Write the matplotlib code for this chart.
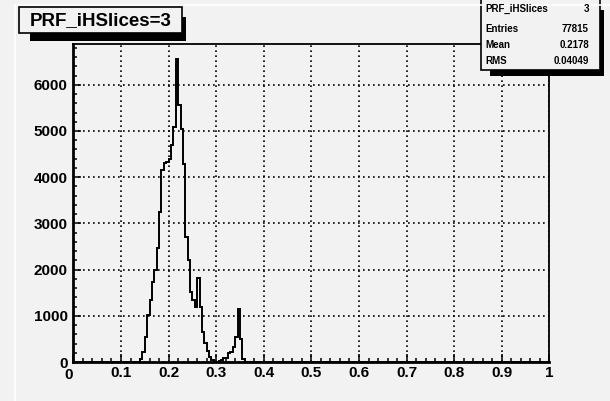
import matplotlib
matplotlib.use("Agg")
import matplotlib.pyplot as plt
import numpy as np
from matplotlib.patches import Rectangle
from matplotlib.transforms import ScaledTranslation
from matplotlib.ticker import MultipleLocator

plt.rcParams["font.family"] = ["Liberation Sans", "DejaVu Sans"]
plt.rcParams["font.weight"] = "bold"

# histogram definition: 200 bins on [0, 1]
n_bins = 200
x_min, x_max = 0.0, 1.0
first_bin = 0.135  # low edge of the first filled bin
bin_counts = [
    10, 60, 220, 550, 1020, 1340, 1740, 1990, 2460, 3250,      # 0.135 - 0.185
    4150, 4300, 4330, 4400, 4700, 5090, 6555, 5570, 5050, 4280,  # 0.185 - 0.235
    2710, 2210, 1520, 1350, 1200, 1820, 1200, 650, 420, 230,     # 0.235 - 0.285
    100, 40, 10, 5, 20, 40, 80, 80, 190, 220,                    # 0.285 - 0.335
    330, 550, 1140, 490, 60, 10,                                 # 0.335 - 0.365
]
hist_name = "PRF_iHSlices"
slice_index = 3
n_entries = 77815
hist_mean = 0.2178
hist_rms = 0.04049

bg = "#f2f2f2"
W, H = 610, 401

edges = np.linspace(x_min, x_max, n_bins + 1)
counts = np.zeros(n_bins)
i0 = int(round((first_bin - x_min) / (x_max - x_min) * n_bins))
counts[i0:i0 + len(bin_counts)] = bin_counts

fig = plt.figure(figsize=(W / 100, H / 100), dpi=100, facecolor=bg)
ax = fig.add_axes([73.4 / W, 1 - 362 / H, 476 / W, 318 / H], facecolor=bg)

ax.stairs(counts, edges, color="black", lw=1.4, zorder=3)
ax.set_xlim(x_min, x_max)
ax.set_ylim(0, 1.05 * counts.max())

ax.xaxis.set_major_locator(MultipleLocator(0.1))
ax.xaxis.set_minor_locator(MultipleLocator(0.02))
ax.yaxis.set_major_locator(MultipleLocator(1000))
ax.yaxis.set_minor_locator(MultipleLocator(200))
ax.set_xticks(np.arange(0, 1.01, 0.1))
ax.set_xticklabels(["0"] + [f"{v:g}" for v in np.arange(0.1, 0.95, 0.1)] + ["1"])
ax.grid(True, which="major", color="black", lw=1.2, linestyle=(0, (1, 2)))
ax.set_axisbelow(True)

ax.tick_params(which="both", direction="in", top=False, right=False,
               labelsize=11, width=1.1)
ax.tick_params(which="major", length=5.5)
ax.tick_params(which="minor", length=3)
ax.tick_params(axis="x", pad=3)
ax.tick_params(axis="y", pad=4)

for side in ("left", "bottom"):
    ax.spines[side].set_linewidth(2.0)
for side in ("top", "right"):
    ax.spines[side].set_linewidth(1.3)

# ROOT nudges the first x label left so it clears the y axis
lbl0 = ax.get_xticklabels()[0]
lbl0.set_transform(lbl0.get_transform() + ScaledTranslation(-5 / 100, -2 / 100, fig.dpi_scale_trans))

# overlay in pixel coordinates for boxes and pad border
ov = fig.add_axes([0, 0, 1, 1], facecolor="none", zorder=10)
ov.set_xlim(0, W)
ov.set_ylim(H, 0)
ov.axis("off")

# pad border highlight
ov.plot([14.5, 14.5], [4.5, H], color="white", lw=1.2)
ov.plot([14.5, W], [4.5, 4.5], color="white", lw=1.2)

# title box with shadow
ov.add_patch(Rectangle((182, 17), 3.5, 23.7, fc="black", ec="none"))
ov.add_patch(Rectangle((30, 33.3), 155.5, 7.4, fc="black", ec="none"))
ov.add_patch(Rectangle((19, 7.3), 163, 26, fc=bg, ec="black", lw=1.2))
ov.text(100.5, 20.5, f"{hist_name}={slice_index}", ha="center", va="center",
        fontsize=13.5, fontweight="bold")

# statistics box
ov.add_patch(Rectangle((600, 10), 4.3, 66, fc="black", ec="none"))
ov.add_patch(Rectangle((490, 70), 114.3, 6, fc="black", ec="none"))
ov.add_patch(Rectangle((481, -3), 119, 73, fc=bg, ec="black", lw=1.2))
rows = [
    (hist_name, f"{slice_index}"),
    ("Entries", f"{n_entries}"),
    ("Mean", f"{hist_mean:.4f}"),
    ("RMS", f"{hist_rms:.4g}"),
]
row_y = [9, 29, 45, 61.5]
for yy, (name, val) in zip(row_y, rows):
    ov.text(485, yy, name, ha="left", va="center", fontsize=7, fontweight="bold")
    ov.text(589, yy, val, ha="right", va="center", fontsize=7, fontweight="bold")

fig.savefig("out.png", dpi=100, facecolor=bg)
